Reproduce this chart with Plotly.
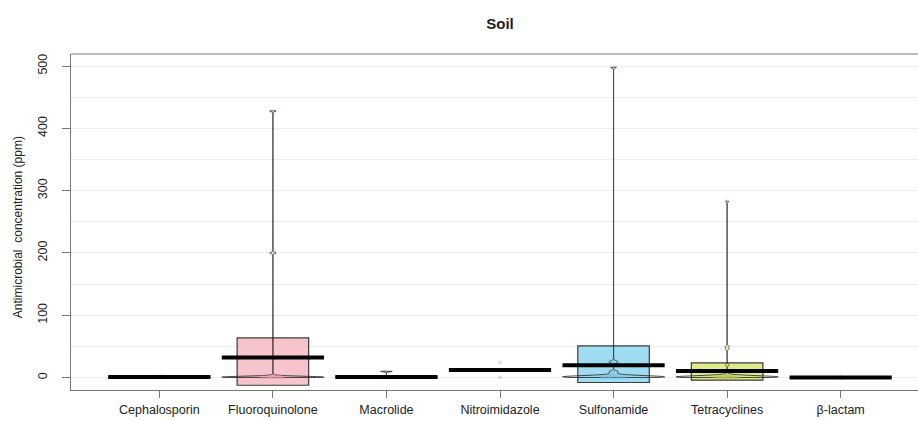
import plotly.graph_objects as go

# ---------------- data ----------------
categories = ["Cephalosporin", "Fluoroquinolone", "Macrolide", "Nitroimidazole",
              "Sulfonamide", "Tetracyclines", "β-lactam"]
means = [1.0, 32.1, 1.0, 12.2, 19.8, 10.6, 0.0]
band_low = [None, -12.4, None, None, -8.0, -4.3, None]
band_high = [None, 63.6, None, None, 50.8, 23.5, None]

cephalosporin_pts = [0.2, 0.4, 0.6, 0.8, 1.0, 1.3, 1.7, 2.2]
fluoroquinolone_pts = [428, 200, 0.1, 0.2, 0.3, 0.4, 0.5, 0.6, 0.8, 1.0, 1.2, 1.5,
                       0.2, 0.3, 0.7, 0.9, 1.1, 0.4, 2.0, 2.5]
macrolide_pts = [10, 0.2, 0.5, 0.3, 0.1, 0.4, 0.2, 0.3, 0.1, 0.5]
nitroimidazole_pts = [24, 0.5]
sulfonamide_pts = [498, 26, 24, 10, 8, 0.1, 0.2, 0.3, 0.5, 0.6, 0.8, 1.0, 1.2, 1.5,
                   1.8, 2.0, 2.5, 3.0, 0.2, 0.4, 0.7, 0.9, 1.1, 1.4, 2.2, 3.5, 4.0]
tetracyclines_pts = [283, 50, 46, 20, 0.1, 0.2, 0.3, 0.4, 0.5, 0.6, 0.7, 0.8, 0.9,
                     1.0, 1.2, 1.4, 1.6, 1.8, 2.0, 2.5, 3.0, 0.2, 0.3, 0.5, 0.6,
                     0.8, 1.0, 1.1, 1.3, 1.5, 2.2, 2.8, 3.5, 0.4, 0.7, 0.9, 1.7, 4.0]
beta_lactam_pts = [0.0, 0.05, 0.1]

raw_points = [cephalosporin_pts, fluoroquinolone_pts, macrolide_pts, nitroimidazole_pts,
              sulfonamide_pts, tetracyclines_pts, beta_lactam_pts]
bandwidths = [0.5, 1.2, 0.8, None, 1.6, 1.6, None]
box_colors = ["#bdbdbd", "#f6c4ca", "#bdbdbd", "#bdbdbd", "#9fdbf1", "#e0e98b", "#bdbdbd"]
point_colors = ["#888888", "#e79aa5", "#888888", "#9a9a9a", "#6fb9d6", "#b9c45a", "#888888"]

y_ticks = [0, 100, 200, 300, 400, 500]

# ---------------- figure ----------------
fig = go.Figure()
xs = list(range(len(categories)))

# inference bands (boxes)
bx, by, bb, bc = [], [], [], []
for i in xs:
    if band_low[i] is not None:
        bx.append(i)
        bb.append(band_low[i])
        by.append(band_high[i] - band_low[i])
        bc.append(box_colors[i])
fig.add_trace(go.Bar(x=bx, y=by, base=bb, width=0.63,
                     marker=dict(color=bc, line=dict(color="#3a3a3a", width=1.2)),
                     hoverinfo="skip", showlegend=False))

# beans (violins) + raw points
for i in xs:
    pts = raw_points[i]
    if bandwidths[i] is None:
        fig.add_trace(go.Scatter(x=[i] * len(pts), y=pts, mode="markers",
                                 marker=dict(color=point_colors[i], size=4, opacity=0.3),
                                 hoverinfo="skip", showlegend=False))
        continue
    fig.add_trace(go.Violin(x=[i] * len(pts), y=pts, width=0.9, spanmode="hard",
                            bandwidth=bandwidths[i], scalemode="width",
                            line=dict(color="rgba(40,40,40,0.85)", width=1),
                            fillcolor="rgba(0,0,0,0)",
                            points="all", pointpos=0, jitter=0.25,
                            marker=dict(color=point_colors[i], size=4, opacity=0.3),
                            hoveron="points", showlegend=False))

# mean bars
mx, my = [], []
for i in xs:
    mx += [i - 0.45, i + 0.45, None]
    my += [means[i], means[i], None]
fig.add_trace(go.Scatter(x=mx, y=my, mode="lines", line=dict(color="black", width=4),
                         hoverinfo="skip", showlegend=False))

# The original plot region runs a little past the right edge of the 918 px window
# (it is cropped there), so the figure is slightly wider than the window.
fig.update_layout(
    width=929, height=421,
    margin=dict(l=71, r=0, t=54, b=31),
    paper_bgcolor="white", plot_bgcolor="white",
    barmode="overlay", violinmode="overlay",
    font=dict(family="Liberation Sans, Arial, sans-serif", size=12.5, color="#222"),
    title=dict(text="<b>Soil</b>", x=0.5, xref="paper", xanchor="center",
               y=1 - 24 / 421, yanchor="middle", font=dict(size=15, color="#222")),
    xaxis=dict(range=[-0.778, 6.778], tickmode="array", tickvals=xs, ticktext=categories,
               showgrid=False, zeroline=False, showline=True, linecolor="#777",
               linewidth=1, ticks="outside", ticklen=7, tickcolor="#777",
               ticklabelstandoff=1),
    yaxis=dict(range=[-20, 519.3], tickmode="array", tickvals=y_ticks,
               tickangle=-90, showgrid=True, gridcolor="#ececec", gridwidth=1,
               minor=dict(dtick=50, showgrid=True, gridcolor="#ececec", gridwidth=1),
               zeroline=False, showline=True, linecolor="#777", linewidth=1,
               ticks="outside", ticklen=8, tickcolor="#777", ticklabelstandoff=10),
    annotations=[dict(text="Antimicrobial  concentration (ppm)", textangle=-90,
                      xref="paper", yref="paper", x=(18 - 71) / 858, y=(389.7 - 227) / 335.7,
                      xanchor="center", yanchor="middle", showarrow=False,
                      font=dict(size=12, color="#222"))],
    shapes=[dict(type="line", xref="paper", yref="paper", x0=0, x1=1, y0=1, y1=1,
                 line=dict(color="#777", width=1))],
)

fig.write_html("out.html", config={"displayModeBar": False},
               post_script="document.body.style.margin='0';document.body.style.overflow='hidden';")
